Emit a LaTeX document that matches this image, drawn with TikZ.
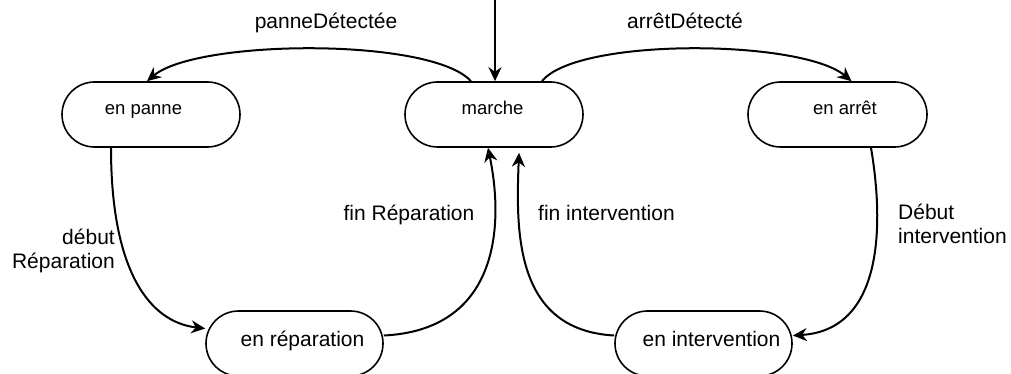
\documentclass[tikz,border=0pt]{standalone}
\usepackage{fontspec}
\setmainfont{Liberation Sans}
\usetikzlibrary{arrows.meta,shapes.misc}
\begin{document}
\begin{tikzpicture}[x=1pt,y=-1pt,
  state/.style={draw, line width=1.6pt, rounded rectangle, minimum height=65pt, inner sep=0pt},
  topstate/.style={state, font=\fontsize{18.5}{22}\selectfont, text height=8pt, text depth=8pt},
  lowstate/.style={state, font=\fontsize{21}{25}\selectfont, text height=12pt, text depth=7pt},
  trans/.style={line width=2pt, -{Stealth[length=14pt,width=13pt,inset=4.5pt]}},
  lbl/.style={font=\fontsize{21}{24}\selectfont, inner sep=0pt}
]
\useasboundingbox (0,0) rectangle (1011,374);
% states
\node[topstate, minimum width=178pt] (panne) at (151,114.5) {en panne\kern15pt};
\node[topstate, minimum width=178pt] (marche) at (494,114.5) {marche\kern3pt};
\node[topstate, minimum width=179pt] (arret) at (837.5,114.5) {\kern15pt en arrêt};
\node[lowstate, minimum width=177pt] (repar) at (294.5,343.5) {\kern16pt en réparation};
\node[lowstate, minimum width=177pt] (interv) at (703.5,343.5) {\kern16pt en intervention};
% initial
\coordinate (init) at (495,0);
\draw[trans] (init) -- (init |- marche.north);
% transitions
\draw[trans] ([xshift=-23pt]marche.north) .. controls +(-40,-44) and +(50,-42) .. ([xshift=-4pt]panne.north);
\draw[trans] ([xshift=48pt]marche.north) .. controls +(35,-44) and +(-50,-42) .. ([xshift=14pt]arret.north);
\draw[trans] ([xshift=-40pt]panne.south) .. controls +(0,123) and +(-56,-6.5) .. ([yshift=15pt]repar.west);
\draw[trans] ([yshift=8pt]repar.east) .. controls +(112,-5.5) and +(17,83) .. ([xshift=-6pt]marche.south);
\draw[trans] ([yshift=8pt]interv.west) .. controls +(-100,-5.5) and +(-3,78) .. ([xshift=25pt,yshift=-5pt]marche.south);
\draw[trans] ([xshift=33.5pt]arret.south) .. controls +(14,83) and +(88,-5.5) .. ([yshift=8pt]interv.east);
% labels
\node[lbl, anchor=base] (lpanne) at (326,29) {panneDétectée};
\node[lbl, anchor=base] (larret) at (685,29) {arrêtDétecté};
\node[lbl, anchor=base east, align=right] (ldebrep) at (115,268) {début\\Réparation};
\node[lbl, anchor=base] (lfinrep) at (409,220) {fin Réparation};
\node[lbl, anchor=base west] (lfinint) at (538,220) {fin intervention};
\node[lbl, anchor=base west, align=left] (ldebint) at (898,243) {Début\\intervention};
\end{tikzpicture}
\end{document}
